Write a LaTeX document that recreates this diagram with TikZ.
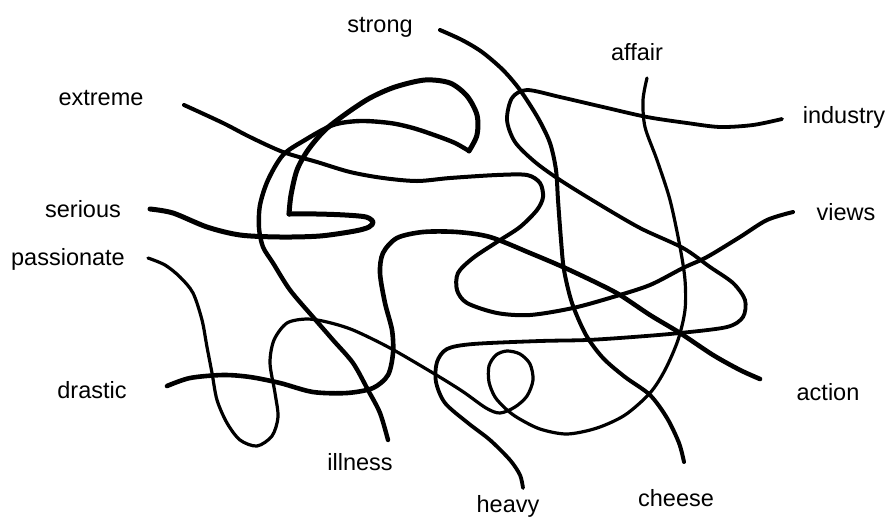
\documentclass[tikz,border=0pt]{standalone}
\usepackage{fontspec}
\setmainfont{Liberation Sans}
\tikzset{
  word/.style={anchor=base,inner sep=0pt,font=\fontsize{23.5}{28}\selectfont},
  strand/.style={line width=#1,line cap=round,line join=round},
  strand/.default=4pt
}
\begin{document}
\begin{tikzpicture}[x=1pt,y=-1pt]
\useasboundingbox (0,0) rectangle (888,520);
\node[word] (strong) at (380,32) {strong};
\node[word] (affair) at (637,60) {affair};
\node[word] (extreme) at (101,105) {extreme};
\node[word] (industry) at (844,123) {industry};
\node[word] (serious) at (83,217) {serious};
\node[word] (views) at (846,220) {views};
\node[word] (passionate) at (68,265) {passionate};
\node[word] (drastic) at (92,398) {drastic};
\node[word] (action) at (828,400) {action};
\node[word] (illness) at (360,470) {illness};
\node[word] (heavy) at (508,512) {heavy};
\node[word] (cheese) at (676,506) {cheese};
\coordinate (strong-end) at (440,30);
\coordinate (cheese-end) at (684,462);
\coordinate (affair-end) at (647,78);
\coordinate (passionate-end) at (148,258);
\coordinate (extreme-end) at (184,105);
\coordinate (views-end) at (793,212);
\coordinate (industry-end) at (782,119);
\coordinate (heavy-end) at (523,488);
\coordinate (serious-end) at (150,209);
\coordinate (illness-end) at (388,440);
\coordinate (drastic-end) at (167,386);
\coordinate (action-end) at (760,379);
\draw[strand] plot[smooth] coordinates {(strong-end) (462,40) (482,52) (503,70)
  (520,90) (538,118) (550,143) (556,170) (558,200) (561,240) (564,270) (572,303)
  (586,335) (603,358) (625,377) (650,395) (667,418) (679,443) (cheese-end)};
\draw[strand=3.2pt] plot[smooth] coordinates {(affair-end) (643,100) (645,127)
  (657,160) (670,200) (680,247) (685,280) (685,310) (678,340) (665,370) (650,393)
  (625,415) (597,428) (567,434) (540,429) (518,418) (506,409) (495,397) (489,382)
  (489,366) (496,355) (507,351) (520,354) (530,364) (533,380) (527,396) (515,407)
  (500,413) (486,408) (462,391) (433,373) (390,348) (353,330) (327,322) (307,319)
  (287,323) (274,340) (270,363) (275,393) (278,417) (272,436) (257,446) (240,440)
  (227,423) (217,400) (212,373) (207,347) (202,320) (193,293) (180,277) (165,265)
  (passionate-end)};
\draw[strand] plot[smooth] coordinates {(extreme-end) (223,123) (250,137)
  (283,152) (317,162) (350,172) (383,178) (417,181) (450,178) (497,175) (527,175)
  (540,183) (543,197) (537,210) (520,227) (497,242) (473,258) (458,273) (457,290)
  (467,303) (497,313) (530,315) (573,308) (613,297) (650,285) (683,268) (707,257)
  (740,237) (767,220) (views-end)};
\draw[strand=3.8pt] plot[smooth] coordinates {(industry-end) (753,125) (720,127)
  (687,123) (647,117) (603,107) (560,97) (527,90) (512,98) (507,120) (515,142)
  (535,162) (560,180) (597,203) (640,228) (683,248) (710,267) (733,283) (745,300)
  (743,317) (727,327) (680,333) (633,337) (587,340) (540,341) (473,344) (447,349)
  (437,362) (436,382) (445,403) (468,423) (490,440) (510,460) (520,475)
  (heavy-end)};
\draw[strand=5pt] plot[smooth] coordinates {(serious-end) (173,213) (207,227)
  (240,235) (280,237) (320,236) (355,231) (369,227) (373,222) (366,217) (345,215)
  (317,214) (289,214)};
\draw[strand=5pt] plot[smooth] coordinates {(289,214) (291,195) (297,170)
  (308,150) (325,130) (347,113) (370,98) (395,87) (425,80) (450,83) (467,96)
  (477,115) (477,135) (469,151)};
\draw[strand=4.4pt] plot[smooth] coordinates {(469,151) (455,143) (437,136)
  (413,128) (390,123) (360,121) (333,125) (305,140) (283,155) (268,180) (260,205)
  (259,228) (263,247) (273,263) (290,290) (313,317) (333,340) (353,363) (368,390)
  (380,413) (illness-end)};
\draw[strand=4.6pt] plot[smooth] coordinates {(drastic-end) (190,378) (223,375)
  (250,377) (280,383) (313,392) (347,393) (373,388) (388,375) (393,353) (392,330)
  (385,303) (380,273) (383,253) (397,238) (423,232) (457,232) (490,237) (530,253)
  (563,267) (597,283) (620,295) (650,315) (680,333) (713,355) (740,370)
  (action-end)};
\end{tikzpicture}
\end{document}
